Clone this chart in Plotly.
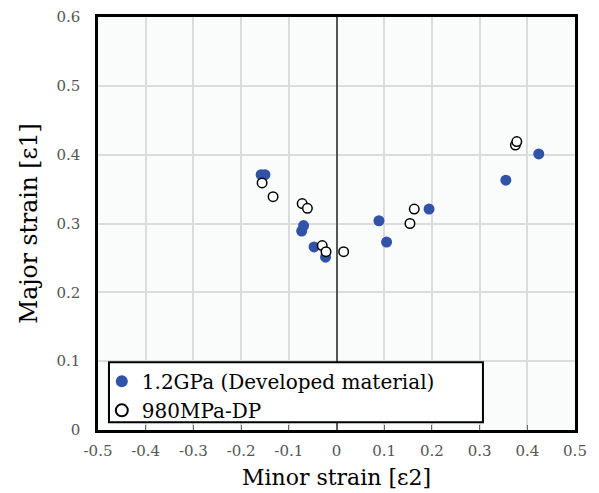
import plotly.graph_objects as go

# Data
dev_minor = [-0.158, -0.150, -0.069, -0.073, -0.047, -0.023, 0.089, 0.105, 0.194, 0.355, 0.424]
dev_major = [0.371, 0.371, 0.297, 0.289, 0.266, 0.251, 0.304, 0.273, 0.321, 0.363, 0.401]

dp_minor = [-0.156, -0.133, -0.072, -0.061, -0.030, -0.022, 0.015, 0.154, 0.163, 0.375, 0.378]
dp_major = [0.359, 0.339, 0.329, 0.322, 0.268, 0.259, 0.259, 0.300, 0.321, 0.414, 0.419]

x_tickvals = [-0.5, -0.4, -0.3, -0.2, -0.1, 0, 0.1, 0.2, 0.3, 0.4, 0.5]
x_ticktext = ["-0.5", "-0.4", "-0.3", "-0.2", "-0.1", "0", "0.1", "0.2", "0.3", "0.4", "0.5"]
y_tickvals = [0, 0.1, 0.2, 0.3, 0.4, 0.5, 0.6]
y_ticktext = ["0", "0.1", "0.2", "0.3", "0.4", "0.5", "0.6"]

series_names = ["1.2GPa (Developed material)", "980MPa-DP"]

SERIF = "DejaVu Serif"
BLUE = "#3053a8"

fig = go.Figure()
fig.add_trace(go.Scatter(
    x=dev_minor, y=dev_major, mode="markers", name=series_names[0],
    marker=dict(size=11, color=BLUE, line=dict(width=0)),
))
fig.add_trace(go.Scatter(
    x=dp_minor, y=dp_major, mode="markers", name=series_names[1],
    marker=dict(size=9.5, color="white", line=dict(width=1.5, color="black")),
))

fig.update_layout(
    width=591, height=485,
    margin=dict(l=90, r=24, t=9, b=63, autoexpand=False),
    paper_bgcolor="white",
    plot_bgcolor="#fafcfc",
    font=dict(family=SERIF, color="black"),
    showlegend=True,
    legend=dict(
        x=0.008, y=0.165, xanchor="left", yanchor="top",
        bgcolor="rgba(0,0,0,0)", borderwidth=0,
        font=dict(family=SERIF, size=20, color="black"),
        itemsizing="constant",
    ),
    xaxis=dict(
        range=[-0.5, 0.5], tickvals=x_tickvals, ticktext=x_ticktext,
        automargin=False,
        showgrid=True, gridcolor="#dcdcdc", gridwidth=1.5,
        zeroline=True, zerolinecolor="#555555", zerolinewidth=1.5,
        showline=True, linecolor="black", linewidth=2.5, mirror=True,
        ticks="inside", ticklen=5, tickcolor="#666666",
        tickfont=dict(family=SERIF, size=15, color="#555555"),
        ticklabelstandoff=5,
        title=dict(text="Minor strain [ε2]", font=dict(family=SERIF, size=22, color="black"), standoff=11),
    ),
    yaxis=dict(
        range=[0, 0.6], tickvals=y_tickvals, ticktext=y_ticktext,
        automargin=False,
        showgrid=True, gridcolor="#dcdcdc", gridwidth=1.5,
        zeroline=False,
        showline=True, linecolor="black", linewidth=2.5, mirror=True,
        ticks="",
        tickfont=dict(family=SERIF, size=15, color="#555555"),
        ticklabelstandoff=12,
        title=dict(text="Major strain [ε1]", font=dict(family=SERIF, size=23.5, color="black"), standoff=13),
    ),
    yaxis2=dict(
        range=[0, 0.6], overlaying="y", anchor="free", position=0.5,
        automargin=False,
        tickvals=y_tickvals, showticklabels=False, showgrid=False,
        zeroline=False, showline=False,
        ticks="inside", ticklen=5, tickcolor="#555555",
    ),
    shapes=[dict(
        type="rect", xref="paper", yref="paper",
        x0=0.023, x1=0.807, y0=0.019, y1=0.164,
        line=dict(color="black", width=2), fillcolor="white", layer="above",
    )],
)

fig.write_html("out.html")
